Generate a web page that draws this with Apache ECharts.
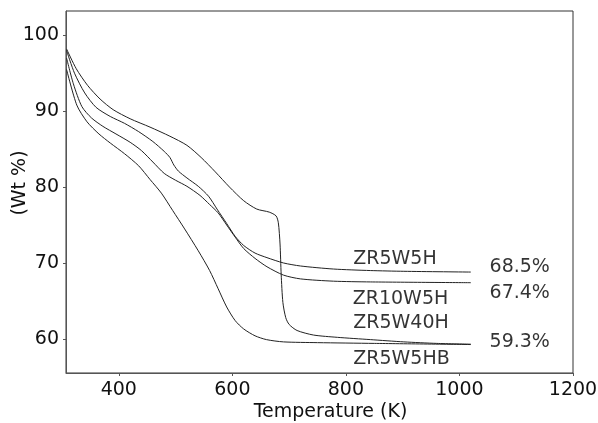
<!DOCTYPE html>
<html>
<head>
<meta charset="utf-8">
<script src="https://cdn.jsdelivr.net/npm/echarts@6/dist/echarts.min.js"></script>
<style>html,body{margin:0;padding:0;background:#fff;}#c{width:598px;height:423px;}</style>
</head>
<body>
<div id="c"></div>
<script>
// ---- data (temperature K, weight %) ----
const xTicks = [400, 600, 800, 1000, 1200];
const yTicks = [60, 70, 80, 90, 100];

const zr5w40h = [[308,98.2],[325,95.6],[345,93.4],[367,91.6],[390,90.2],[420,89.0],[455,87.9],[490,86.7],[520,85.5],[545,83.9],[570,82.0],[595,80.0],[620,78.2],[643,77.1],[665,76.7],[677,76.2],[681,75.3],[684,72.5],[686,68.5],[689,64.8],[694,62.8],[700,61.9],[714,61.1],[743,60.5],[785,60.2],[843,59.9],[902,59.6],[960,59.4],[1020,59.3]];

const zr5w5h = [[308,98.0],[322,95.0],[340,92.4],[360,90.5],[385,89.3],[410,88.4],[435,87.3],[460,86.0],[480,84.7],[490,83.9],[497,82.9],[505,82.1],[520,81.2],[540,80.1],[558,78.8],[573,77.1],[590,75.2],[605,73.5],[620,72.3],[640,71.3],[661,70.7],[690,70.0],[720,69.6],[778,69.2],[843,69.0],[902,68.9],[1020,68.8]];

const zr10w5h = [[308,97.0],[320,93.6],[335,90.6],[352,89.1],[372,88.0],[395,87.0],[420,85.9],[440,84.8],[460,83.3],[480,81.8],[500,80.9],[520,80.1],[543,78.9],[560,77.7],[575,76.6],[590,75.0],[605,73.4],[620,71.9],[640,70.6],[661,69.5],[690,68.4],[720,67.9],[778,67.6],[843,67.5],[1020,67.4]];

const zr5w5hb = [[308,95.5],[326,90.8],[344,88.6],[365,87.0],[385,85.8],[410,84.4],[435,82.8],[455,81.0],[475,79.2],[495,76.9],[515,74.6],[540,71.6],[560,69.0],[575,66.6],[590,64.2],[605,62.4],[620,61.3],[640,60.4],[660,59.9],[690,59.6],[750,59.5],[850,59.4],[1020,59.25]];

const seriesNames = ['ZR5W40H', 'ZR5W5H', 'ZR10W5H', 'ZR5W5HB'];
const seriesData = [zr5w40h, zr5w5h, zr10w5h, zr5w5hb];

// annotation texts and their anchor (left edge, vertical centre) in data units
const annoTexts = ['ZR5W5H', 'ZR10W5H', 'ZR5W40H', 'ZR5W5HB', '68.5%', '67.4%', '59.3%'];
const annoPos = [[813, 70.45], [812, 65.3], [813, 62.1], [813, 57.3], [1053, 69.5], [1053, 66.0], [1053, 59.6]];

// ---- chart ----
const font = 'DejaVu Sans';
const chart = echarts.init(document.getElementById('c'), null, {renderer: 'canvas'});

const series = seriesNames.map((n, i) => ({
  name: n, type: 'line', data: seriesData[i],
  showSymbol: false, smooth: 0.25,
  lineStyle: {color: '#222', width: 1}, silent: true, animation: false
}));

series.push({
  type: 'scatter', silent: true, animation: false,
  symbolSize: 0,
  data: annoPos.map((p, i) => ({value: p, name: annoTexts[i]})),
  label: {
    show: true, position: 'right', distance: 0,
    formatter: p => p.name,
    fontFamily: font, fontSize: 19, color: '#000'
  }
});

chart.setOption({
  animation: false,
  backgroundColor: '#fff',
  grid: {left: 66, right: 25, top: 11, bottom: 50, show: true, borderColor: '#333', borderWidth: 1, outerBoundsMode: 'none'},
  xAxis: {
    type: 'value', min: 307, max: 1200,
    name: 'Temperature (K)', nameLocation: 'middle', nameGap: 30, nameMoveOverlap: false,
    nameTextStyle: {fontFamily: font, fontSize: 19, color: '#111', padding: [0, 0, 0, 22]},
    axisLine: {show: true, onZero: false, lineStyle: {color: '#555', width: 1}},
    axisTick: {show: true, customValues: xTicks, length: 3, inside: false, lineStyle: {color: '#555'}},
    axisLabel: {customValues: xTicks, margin: 8, fontFamily: font, fontSize: 19, color: '#111', formatter: v => String(v)},
    splitLine: {show: false}
  },
  yAxis: {
    type: 'value', min: 55.5, max: 103.2,
    name: '(Wt %)', nameLocation: 'middle', nameGap: 36, nameRotate: 90, nameMoveOverlap: false,
    nameTextStyle: {fontFamily: font, fontSize: 19, color: '#111', padding: [0, 0, 0, 18]},
    axisLine: {show: true, onZero: false, lineStyle: {color: '#555', width: 1}},
    axisTick: {show: true, customValues: yTicks, length: 3, lineStyle: {color: '#555'}},
    axisLabel: {customValues: yTicks, margin: 7, fontFamily: font, fontSize: 19, color: '#111', formatter: v => String(v)},
    splitLine: {show: false}
  },
  series: series
});
</script>
</body>
</html>
